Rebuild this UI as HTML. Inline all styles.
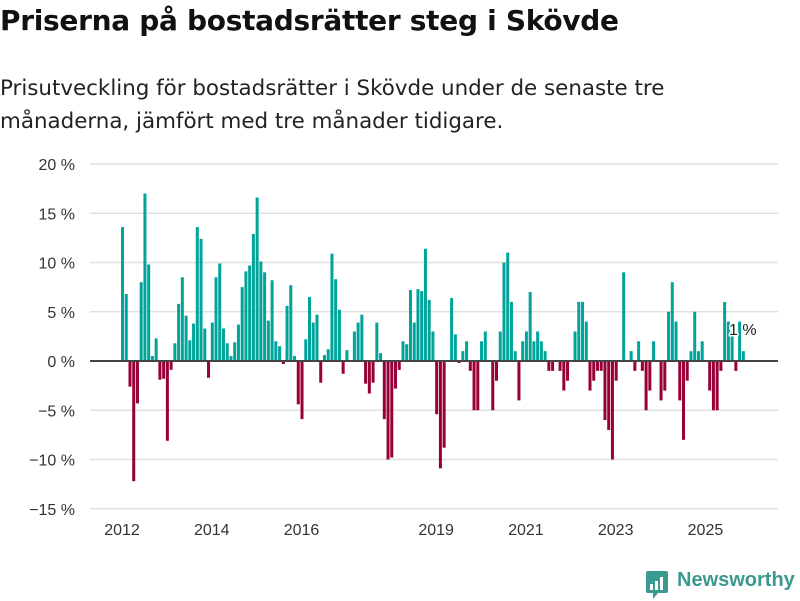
<!DOCTYPE html>
<html><head><meta charset="utf-8"><style>
body{margin:0;width:800px;height:600px;background:#fff;font-family:"Liberation Sans","DejaVu Sans",sans-serif;color:#111;overflow:hidden;position:relative}
#title{position:absolute;left:0;top:4px;font-family:"DejaVu Sans",sans-serif;font-size:28px;font-weight:bold;margin:0;letter-spacing:-0.3px;white-space:nowrap}
#sub{position:absolute;left:0;top:72px;font-family:"DejaVu Sans",sans-serif;font-size:21.4px;line-height:33px;width:760px;color:#222;white-space:nowrap}
svg{position:absolute;left:0;top:0}
</style></head><body>
<h1 id="title">Priserna på bostadsrätter steg i Skövde</h1>
<div id="sub">Prisutveckling för bostadsrätter i Skövde under de senaste tre<br>månaderna, jämfört med tre månader tidigare.</div>
<svg id="chart" width="800" height="600"></svg>
<script>
const values=[13.6,6.8,-2.6,-12.2,-4.3,8.0,17.0,9.8,0.5,2.3,-1.9,-1.8,-8.1,-0.9,1.8,5.8,8.5,4.6,2.1,3.8,13.6,12.4,3.3,-1.7,3.9,8.5,9.9,3.3,1.8,0.5,1.9,3.7,7.5,9.1,9.7,12.9,16.6,10.1,9.0,4.1,8.2,2.0,1.5,-0.3,5.6,7.7,0.5,-4.4,-5.9,2.2,6.5,3.9,4.7,-2.2,0.6,1.2,10.9,8.3,5.2,-1.3,1.1,0,3.0,3.9,4.7,-2.3,-3.3,-2.2,3.9,0.8,-5.9,-10.0,-9.8,-2.8,-0.9,2.0,1.7,7.2,3.9,7.3,7.1,11.4,6.2,3.0,-5.4,-10.9,-8.8,0,6.4,2.7,-0.2,1.0,2.0,-1.0,-5.0,-5.0,2.0,3.0,0,-5.0,-2.0,3.0,10.0,11.0,6.0,1.0,-4.0,2.0,3.0,7.0,2.0,3.0,2.0,1.0,-1,-1,0,-1,-3,-2,0,3,6,6,4,-3,-2,-1,-1,-6,-7,-10,-2,0,9,0,1,-1,2,-1,-5,-3,2,0,-4,-3,5,8,4,-4,-8,-2,1,5,1,2,0,-3,-5,-5,-1,6,4,3,-1,4,1];
const yTicks=[20,15,10,5,0,-5,-10,-15];
const yearLabels=[2012,2014,2016,2019,2021,2023,2025];
const startYear=2012;
const lastLabel="1 %";
const NS="http://www.w3.org/2000/svg";
const svg=document.getElementById('chart');
function y(v){return 361-v*9.85;}
function x(i){return 121+i*3.74;}
function mk(t,a){const e=document.createElementNS(NS,t);for(const k in a)e.setAttribute(k,a[k]);svg.appendChild(e);return e;}
yTicks.forEach(t=>{
  const g=mk('line',{x1:90,x2:778,y1:y(t),y2:y(t),stroke:'#e0e0e0','stroke-width':1.5});
  
  
  const l=mk('text',{x:75,y:y(t)+6,'text-anchor':'end','font-size':16,fill:'#333'});
  l.textContent=(t<0?'\u2212'+(-t):t)+' %';
  
  
});
values.forEach((v,i)=>{
  if(v===0)return;
  const r=mk('rect',{x:x(i),width:3,y:v>0?y(v):y(0),height:Math.abs(y(v)-y(0)),fill:v>0?'#00a499':'#990038'});
  
  
});
const z=mk('line',{x1:90,x2:778,y1:y(0),y2:y(0),stroke:'#444','stroke-width':2});


yearLabels.forEach(yr=>{
  const t=mk('text',{x:x((yr-startYear)*12)+1,y:535,'text-anchor':'middle','font-size':16,fill:'#333'});
  t.textContent=yr;
  
  
});
const last=values.length-1;
const ll=mk('text',{x:x(last)+1,y:335,'text-anchor':'middle','font-size':16,fill:'#222',stroke:'#fff','stroke-width':3,'paint-order':'stroke'});
ll.textContent=lastLabel;


</script>
<div style="position:absolute;left:646px;top:571px;height:24px">
<svg width="24" height="30" style="position:absolute;left:0;top:0">
<path d="M0 2 Q0 0 2 0 H20 Q22 0 22 2 V20 Q22 22 20 22 H12 L7 28 V22 H2 Q0 22 0 20Z" fill="#3a9a90"/>
<rect x="4" y="13" width="3" height="6" fill="#fff"/><rect x="9" y="10" width="3" height="9" fill="#fff"/><rect x="14" y="6" width="3" height="13" fill="#fff"/>
</svg>
<span style="position:absolute;left:31px;top:-2px;font-size:20px;font-weight:bold;color:#3a9a90;white-space:nowrap">Newsworthy</span>
</div>
</body></html>
